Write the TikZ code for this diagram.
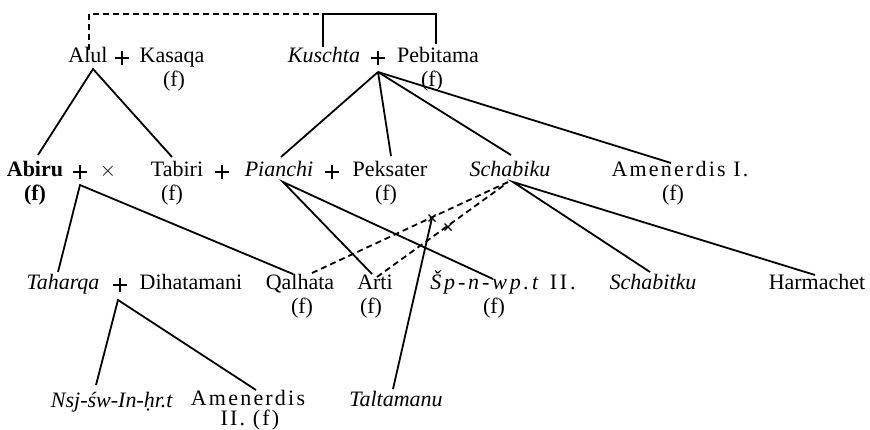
\documentclass[tikz,border=0pt]{standalone}
\usepackage{fontspec}
\setmainfont{Liberation Serif}
\newfontfamily\spacedfont[LetterSpace=10]{Liberation Serif}
\newfontfamily\widefont[LetterSpace=13]{Liberation Serif}
\begin{document}
\begin{tikzpicture}[x=1pt,y=-1pt,
  lbl/.style={anchor=base,inner sep=0pt,font=\fontsize{22}{25}\selectfont},
  plussign/.style={minimum size=14pt,inner sep=0pt,
    path picture={\draw[line width=1.7pt]
      (path picture bounding box.north) -- (path picture bounding box.south)
      (path picture bounding box.west) -- (path picture bounding box.east);}},
  edge/.style={line width=1.8pt},
  dashedge/.style={line width=1.8pt,dash pattern=on 6pt off 4pt},
  crossmark/.style={line width=1.4pt}]
\useasboundingbox (0,0) rectangle (870,430);
% Row 1
\node[lbl] (alul) at (88,63) {Alul};
\node[plussign] (p1) at (122,58) {};
\node[lbl] (kasaqa) at (172,63) {Kasaqa};
\node[lbl] (f1) at (174,87) {(f)};
\node[lbl] (kuschta) at (324,63) {\textit{Kuschta}};
\node[plussign] (p2) at (378,58) {};
\node[lbl] (pebitama) at (438,63) {Pebitama};
\node[lbl] (f2) at (432,87) {(f)};
% Row 2
\node[lbl] (abiru) at (35,177) {\textbf{Abiru}};
\node[lbl] (f3) at (35,201) {\textbf{(f)}};
\node[plussign] (p3) at (80,172) {};
\node[lbl] (times) at (108,177) {$\times$};
\node[lbl] (tabiri) at (177,177) {Tabiri};
\node[lbl] (f4) at (172,201) {(f)};
\node[plussign] (p4) at (222,172) {};
\node[lbl] (pianchi) at (279,177) {\textit{Pianchi}};
\node[plussign] (p5) at (332,172) {};
\node[lbl] (peksater) at (390,177) {Peksater};
\node[lbl] (f5) at (386,201) {(f)};
\node[lbl] (schabiku) at (510,177) {\textit{Schabiku}};
\node[lbl] (amen1) at (680,177) {\spacedfont Amenerdis I.};
\node[lbl] (f6) at (673,201) {(f)};
% Row 3
\node[lbl] (taharqa) at (63,290) {\textit{Taharqa}};
\node[plussign] (p6) at (120,285) {};
\node[lbl] (dihatamani) at (191,290) {Dihatamani};
\node[lbl] (qalhata) at (300,290) {Qalhata};
\node[lbl] (f7) at (302,314) {(f)};
\node[lbl] (arti) at (375,290) {Arti};
\node[lbl] (f8) at (371,314) {(f)};
\node[lbl] (sp) at (503,290) {\widefont\textit{Šp-n-wp.t} II.};
\node[lbl] (f9) at (494,314) {(f)};
\node[lbl] (schabitku) at (653,290) {\textit{Schabitku}};
\node[lbl] (harmachet) at (817,290) {Harmachet};
% Row 4
\node[lbl] (nsj) at (112,407) {\textit{Nsj-św-In-ḥr.t}};
\node[lbl] (amen2) at (248,405) {\spacedfont Amenerdis};
\node[lbl] (amen2b) at (250,425) {\spacedfont II. (f)};
\node[lbl] (taltamanu) at (396,406) {\textit{Taltamanu}};
% connection points
\coordinate (alulTop) at (89,50);
\coordinate (topL) at (89,14);
\coordinate (kuschTop) at (323,47);
\coordinate (topM) at (323,14);
\coordinate (topR) at (436,14);
\coordinate (pebTop) at (436,44);
\coordinate (alulA) at (93,69);
\coordinate (abiruT) at (38,155);
\coordinate (tabiriT) at (172,157);
\coordinate (kuschA) at (378,72);
\coordinate (pianchiT) at (281,157);
\coordinate (peksT) at (391,156);
\coordinate (schabT) at (511,155);
\coordinate (amen1T) at (671,163);
\coordinate (abiruA) at (80,185);
\coordinate (taharqaT) at (58,272);
\coordinate (qalhataT) at (293,274);
\coordinate (pianchiA) at (283,182);
\coordinate (artiT) at (372,274);
\coordinate (spT) at (493,279);
\coordinate (schabA) at (513,182);
\coordinate (schabitkuT) at (650,272);
\coordinate (harmT) at (815,275);
\coordinate (qalD) at (312,273);
\coordinate (schabD) at (508,182);
\coordinate (artiD) at (377,277);
\coordinate (schabD2) at (507,183);
\coordinate (taharqaA) at (118,300);
\coordinate (nsjT) at (96,385);
\coordinate (amen2T) at (256,390);
\coordinate (taltT) at (393,389);
\coordinate (cross1) at (432,218);
\coordinate (cross2) at (448,227);
% top link
\draw[dashedge] (alulTop) -- (topL) -- (topM);
\draw[edge] (kuschTop) -- (topM) -- (topR) -- (pebTop);
% descent lines
\draw[edge] (abiruT) -- (alulA) -- (tabiriT);
\draw[edge] (kuschA) -- (pianchiT);
\draw[edge] (kuschA) -- (peksT);
\draw[edge] (kuschA) -- (schabT);
\draw[edge] (kuschA) -- (amen1T);
\draw[edge] (taharqaT) -- (abiruA) -- (qalhataT);
\draw[edge] (artiT) -- (pianchiA) -- (spT);
\draw[edge] (schabitkuT) -- (schabA) -- (harmT);
\draw[edge] (nsjT) -- (taharqaA) -- (amen2T);
\draw[dashedge] (qalD) -- (schabD);
\draw[dashedge] (artiD) -- (schabD2);
\draw[edge] (taltT) -- (cross1);
% cross marks
\foreach \c in {cross1,cross2}{
  \draw[crossmark] ([shift={(-3.5pt,-3.5pt)}]\c) -- ([shift={(3.5pt,3.5pt)}]\c);
  \draw[crossmark] ([shift={(-3.5pt,3.5pt)}]\c) -- ([shift={(3.5pt,-3.5pt)}]\c);
}
\end{tikzpicture}
\end{document}
